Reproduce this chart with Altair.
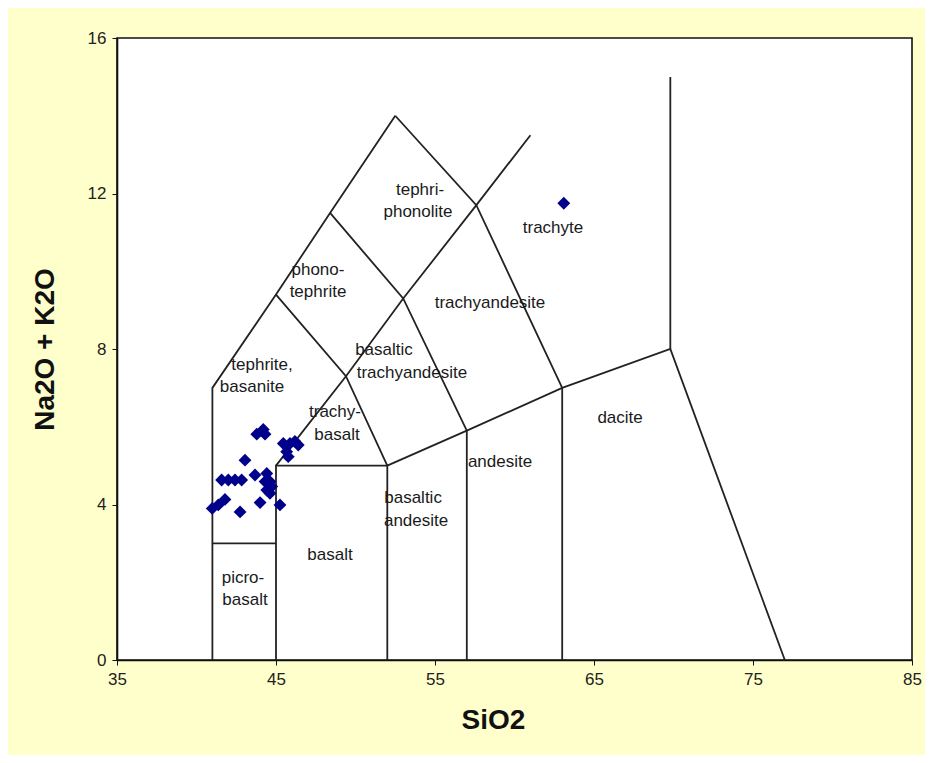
import altair as alt
import pandas as pd

# ---- boundary polylines of the TAS diagram (SiO2, Na2O+K2O) ----
line_x = [
    [41, 41, 45, 48.4, 52.5],
    [41, 45],
    [45, 45, 52, 52],
    [52, 57, 63, 69.8, 77],
    [57, 57],
    [63, 63],
    [69.8, 69.8],
    [45, 49.4, 53, 57.6, 61],
    [52, 49.4, 45],
    [57, 53, 48.4],
    [63, 57.6, 52.5],
]
line_y = [
    [0, 7, 9.4, 11.5, 14],
    [3, 3],
    [0, 5, 5, 0],
    [5, 5.9, 7, 8, 0],
    [0, 5.9],
    [0, 7],
    [8, 15],
    [5, 7.3, 9.3, 11.7, 13.5],
    [5, 7.3, 9.4],
    [5.9, 9.3, 11.5],
    [7, 11.7, 14],
]

# ---- sample points ----
pt_x = [43.79, 44.20, 44.31, 45.46, 45.88, 46.19, 46.40, 45.67, 45.77, 43.05,
        41.58, 42.00, 42.42, 42.84, 43.68, 44.42, 44.31, 44.62, 44.73, 44.42,
        44.62, 41.79, 41.37, 40.99, 42.74, 44.00, 45.25, 63.1]
pt_y = [5.81, 5.93, 5.81, 5.57, 5.57, 5.62, 5.53, 5.36, 5.23, 5.14,
        4.63, 4.63, 4.63, 4.63, 4.76, 4.80, 4.59, 4.59, 4.46, 4.37,
        4.29, 4.13, 3.99, 3.90, 3.81, 4.05, 3.99, 11.75]

# ---- field labels ----
lab_text = ["tephri-", "phonolite", "phono-", "tephrite", "trachyte",
            "trachyandesite", "basaltic", "trachyandesite", "tephrite,",
            "basanite", "trachy-", "basalt", "dacite", "andesite",
            "basaltic", "andesite", "basalt", "picro-", "basalt"]
lab_x = [54.06, 53.93, 47.64, 47.64, 62.42, 58.46, 51.79, 53.55, 44.12,
         43.49, 48.71, 48.84, 66.64, 59.09, 53.62, 53.81, 48.40, 42.92, 43.05]
lab_y = [12.09, 11.52, 10.03, 9.47, 11.11, 9.18, 7.97, 7.38, 7.59,
         7.02, 6.38, 5.79, 6.23, 5.09, 4.17, 3.58, 2.70, 2.11, 1.54]

x_ticks = [35, 45, 55, 65, 75, 85]
y_ticks = [0, 4, 8, 12, 16]

rows = []
for i, (xs, ys) in enumerate(zip(line_x, line_y)):
    for j, (a, b) in enumerate(zip(xs, ys)):
        rows.append({"seg": i, "ord": j, "x": a, "y": b})
lines_df = pd.DataFrame(rows)
pts_df = pd.DataFrame({"x": pt_x, "y": pt_y})
lab_df = pd.DataFrame({"t": lab_text, "x": lab_x, "y": lab_y})

xscale = alt.Scale(domain=[35, 85], nice=False, zero=False)
yscale = alt.Scale(domain=[0, 16], nice=False, zero=False)

xaxis = alt.Axis(values=x_ticks, title="SiO2", grid=False, tickSize=5,
                 labelPadding=6, labelFontSize=17, labelColor="#222",
                 labelFlush=False,
                 titleFontSize=28, titleFontWeight="bold", titleColor="#111",
                 titleX=376, titleY=60, titleBaseline="middle",
                 domainColor="#111", domainWidth=1.6, tickColor="#111")
yaxis = alt.Axis(values=y_ticks, title="Na2O + K2O", grid=False, tickSize=5,
                 labelPadding=6, labelFontSize=17, labelColor="#222",
                 labelFlush=False,
                 titleFontSize=28, titleFontWeight="bold", titleColor="#111",
                 titleX=-72, titleY=311, titleBaseline="middle", titleAngle=-90,
                 domainColor="#111", domainWidth=1.6, tickColor="#111")

lines = alt.Chart(lines_df).mark_line(color="#222222", strokeWidth=1.8).encode(
    x=alt.X("x:Q", scale=xscale, axis=xaxis),
    y=alt.Y("y:Q", scale=yscale, axis=yaxis),
    detail="seg:N",
    order="ord:Q",
)

points = alt.Chart(pts_df).mark_point(shape="diamond", filled=True, size=165,
                                      color="#00008B", opacity=1).encode(
    x=alt.X("x:Q", scale=xscale),
    y=alt.Y("y:Q", scale=yscale),
)

labels = alt.Chart(lab_df).mark_text(fontSize=17, color="#1a1a1a",
                                     font="Liberation Sans").encode(
    x=alt.X("x:Q", scale=xscale),
    y=alt.Y("y:Q", scale=yscale),
    text="t:N",
)

chart = alt.layer(lines, labels, points).properties(
    width=795, height=622,
    background="#FFFFCC",
    padding={"left": 109, "top": 30, "right": 13, "bottom": 95},
    autosize=alt.AutoSizeParams(type="none"),
).configure_view(
    stroke="#111", strokeWidth=1.6, fill="white"
).configure_axis(labelFont="Liberation Sans", titleFont="Liberation Sans")

chart.save("out.html", embed_options={"renderer": "svg", "actions": False})
